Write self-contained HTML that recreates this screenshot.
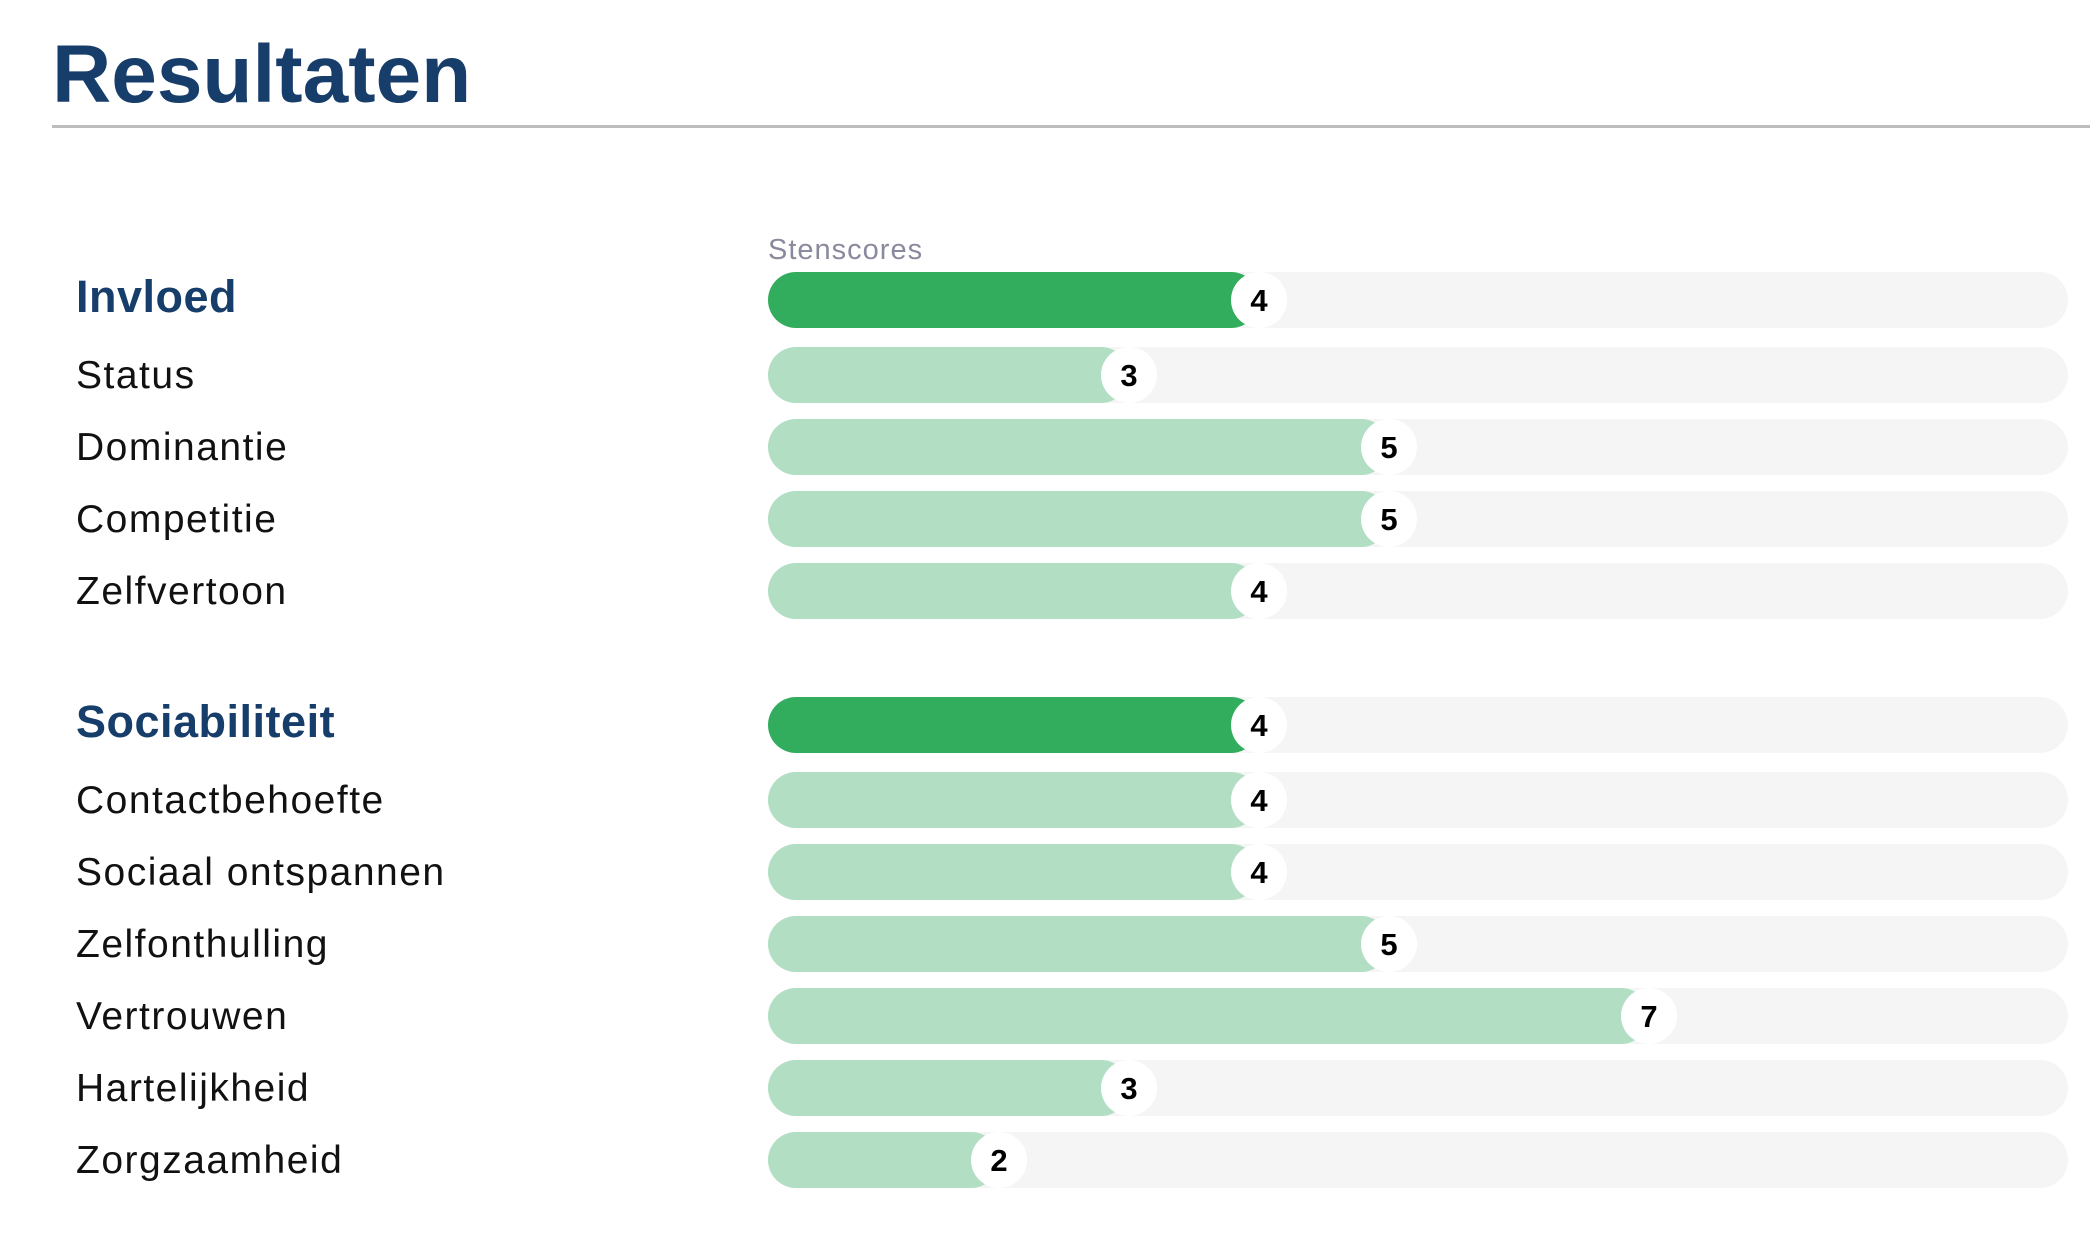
<!DOCTYPE html>
<html><head><meta charset="utf-8"><style>
html,body{margin:0;padding:0;background:#fff;width:2090px;height:1237px;overflow:hidden}
svg{display:block}
</style></head><body>
<svg id="chart" width="2090" height="1237" xmlns="http://www.w3.org/2000/svg">
<text x="52" y="102" font-family="Liberation Sans, sans-serif" font-weight="bold" font-size="82" fill="#173d6a">Resultaten</text>
<rect x="52" y="125" width="2038" height="3" fill="#bdbdbd"/>
<text x="768" y="259" font-family="Liberation Sans, sans-serif" font-size="29" fill="#8a8a9e" letter-spacing="1">Stenscores</text>
<g id="rows"></g>
</svg>
<script>
const labels = ["Invloed","Status","Dominantie","Competitie","Zelfvertoon","Sociabiliteit","Contactbehoefte","Sociaal ontspannen","Zelfonthulling","Vertrouwen","Hartelijkheid","Zorgzaamheid"];
const scores = [4,3,5,5,4,4,4,4,5,7,3,2];
const isHeader = [true,false,false,false,false,true,false,false,false,false,false,false];
const rowCenters = [300,375,447,519,591,725,800,872,944,1016,1088,1160];

const NS="http://www.w3.org/2000/svg";
const g=document.getElementById('rows');
const barX=768, barEnd=2068, barH=56;
function xScale(v){return 739+130*v;}
function mk(tag,attrs){const e=document.createElementNS(NS,tag);for(const k in attrs)e.setAttribute(k,attrs[k]);return e;}
labels.forEach((lab,i)=>{
  const cy=rowCenters[i], hd=isHeader[i];
  const t=mk('text',{x:76,y:cy+(hd?12:13),'font-family':'Liberation Sans, sans-serif','font-size':hd?45:39,'font-weight':hd?'bold':'normal',fill:hd?'#173d6a':'#111','letter-spacing':hd?'0.5':'1.5'});
  
  
  t.textContent=lab;g.appendChild(t);
  const track=mk('rect',{x:barX,y:cy-barH/2,width:barEnd-barX,height:barH,rx:28,ry:28,fill:'#f5f5f5'});
  
  
  g.appendChild(track);
  const cx=xScale(scores[i]);
  const fill=mk('rect',{x:barX,y:cy-barH/2,width:cx-barX,height:barH,rx:28,ry:28,fill:hd?'#32ad5e':'#b2dec3'});
  
  
  g.appendChild(fill);
  const c=mk('circle',{cx:cx,cy:cy,r:28,fill:'#fff'});
  
  
  g.appendChild(c);
  const n=mk('text',{x:cx,y:cy+11,'text-anchor':'middle','font-family':'Liberation Sans, sans-serif','font-size':31,'font-weight':'bold',fill:'#000'});
  
  
  n.textContent=scores[i];g.appendChild(n);
});
</script>
</body></html>
